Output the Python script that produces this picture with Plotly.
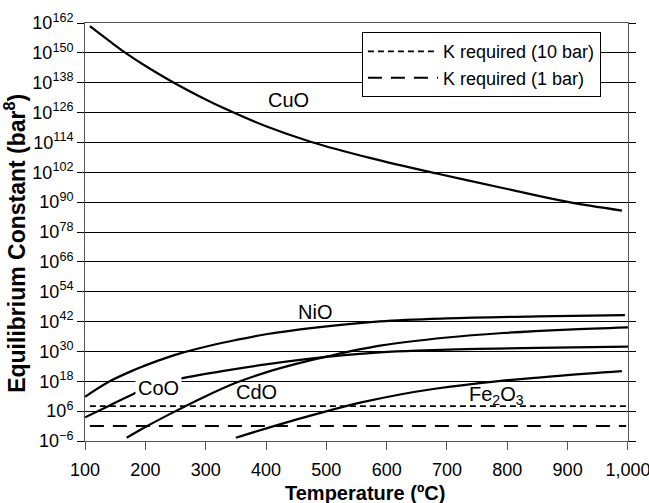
import plotly.graph_objects as go

# Temperatures in degrees C and log10 of the equilibrium constant (bar^8)
cuo_t = [108, 140, 167, 205, 245, 290, 337, 400, 475, 572, 683, 800, 898, 990]
cuo_logk = [160.7, 154.8, 150.0, 144.0, 138.3, 132.5, 127.0, 120.5, 114.2, 107.8, 101.5, 95.3, 90.2, 86.6]

nio_t = [100, 141, 180, 220, 263, 310, 350, 400, 478, 589, 700, 850, 995]
nio_logk = [11.8, 18, 22.4, 26.2, 29.6, 32.5, 34.6, 36.9, 39.5, 42.1, 43.3, 44.1, 44.6]

coo_t = [100, 140, 180, 221, 260, 330, 400, 470, 530, 589, 650, 750, 850, 1000]
coo_logk = [3.5, 8.2, 12.9, 17.0, 19.2, 22.2, 24.8, 27.0, 28.5, 29.6, 30.3, 31.0, 31.4, 31.9]

cdo_t = [169, 203, 246, 300, 348, 400, 450, 500, 589, 700, 793, 900, 1000]
cdo_logk = [-4.7, 0, 5.5, 12.0, 17.2, 21.6, 25.0, 27.9, 32.3, 35.6, 37.4, 38.8, 39.7]

fe2o3_t = [350, 413, 495, 560, 620, 680, 782, 890, 990]
fe2o3_logk = [-4.7, 0, 5.6, 9.6, 12.6, 15.0, 18.0, 20.3, 22.1]

# Required K for the two pressures
req_t = [108, 997]
req_10bar_logk = 8
req_1bar_logk = 0

# Axis ticks
x_ticks = [100, 200, 300, 400, 500, 600, 700, 800, 900, 1000]
x_ticktext = ["100", "200", "300", "400", "500", "600", "700", "800", "900", "1,000"]
y_tick_exps = list(range(-6, 163, 12))

FONT = "Arial, Liberation Sans, sans-serif"

fig = go.Figure()

curves = [
    (cuo_t, cuo_logk),
    (nio_t, nio_logk),
    (coo_t, coo_logk),
    (cdo_t, cdo_logk),
    (fe2o3_t, fe2o3_logk),
]
for t, logk in curves:
    fig.add_trace(go.Scatter(
        x=t, y=[10.0 ** v for v in logk], mode="lines",
        line=dict(color="black", width=2.2, shape="spline", smoothing=1.0),
        showlegend=False, hoverinfo="skip",
    ))

fig.add_trace(go.Scatter(
    x=req_t, y=[10.0 ** req_10bar_logk] * 2, mode="lines",
    line=dict(color="black", width=1.6, dash="6px,4px"),
    name="K required (10 bar)",
))
fig.add_trace(go.Scatter(
    x=req_t, y=[10.0 ** req_1bar_logk] * 2, mode="lines",
    line=dict(color="black", width=2, dash="14px,9px"),
    name="K required (1 bar)",
))

labels = [
    ("CuO", 437, 130.9, None),
    ("NiO", 481, 45.9, None),
    ("CoO", 221, 15.2, "white"),
    ("CdO", 384, 13.8, None),
    ("Fe<sub>2</sub>O<sub>3</sub>", 782, 12.1, None),
]
for text, t, logk, bg in labels:
    fig.add_annotation(
        x=t, y=logk, text=text, showarrow=False,
        font=dict(family=FONT, size=20, color="black"),
        bgcolor=bg if bg else "rgba(0,0,0,0)", borderpad=2,
    )

# Axis titles
fig.add_annotation(
    xref="paper", yref="paper", x=0.5157, y=-0.124,
    xanchor="center", yanchor="middle", showarrow=False,
    text="<b>Temperature (ºC)</b>",
    font=dict(family=FONT, size=20, color="black"),
)
fig.add_annotation(
    xref="paper", yref="paper", x=-0.129, y=0.474,
    xanchor="center", yanchor="middle", showarrow=False, textangle=-90,
    text="<b>Equilibrium Constant (bar<sup>8</sup>)</b>",
    font=dict(family=FONT, size=23, color="black"),
)

fig.update_layout(
    width=649, height=503,
    margin=dict(l=85, r=21, t=23, b=62, autoexpand=False),
    paper_bgcolor="white", plot_bgcolor="white",
    font=dict(family=FONT, color="black"),
    legend=dict(
        x=0.51, xanchor="left", y=0.978, yanchor="top",
        bgcolor="white", bordercolor="black", borderwidth=1,
        font=dict(family=FONT, size=18, color="black"),
        itemwidth=70,
    ),
)

fig.update_xaxes(
    range=[99.9, 1000.1], tickvals=x_ticks, ticktext=x_ticktext,
    showgrid=False, zeroline=False, automargin=False,
    showline=True, linecolor="#555", linewidth=1, mirror=True,
    ticks="outside", ticklen=8, tickcolor="#555",
    ticklabelstandoff=4, ticklabeloverflow="allow",
    tickfont=dict(family=FONT, size=18, color="black"),
)

fig.update_yaxes(
    type="log", range=[-6, 162], automargin=False,
    tickvals=[10.0 ** e for e in y_tick_exps],
    ticktext=["10<sup>%s</sup>" % (str(e).replace("-", "\u2212")) for e in y_tick_exps],
    showgrid=True, gridcolor="black", gridwidth=1, zeroline=False,
    showline=True, linecolor="#555", linewidth=1, mirror="ticks",
    ticks="outside", ticklen=7, tickcolor="black",
    tickfont=dict(family=FONT, size=18, color="black"),
)

fig.write_html("out.html")
